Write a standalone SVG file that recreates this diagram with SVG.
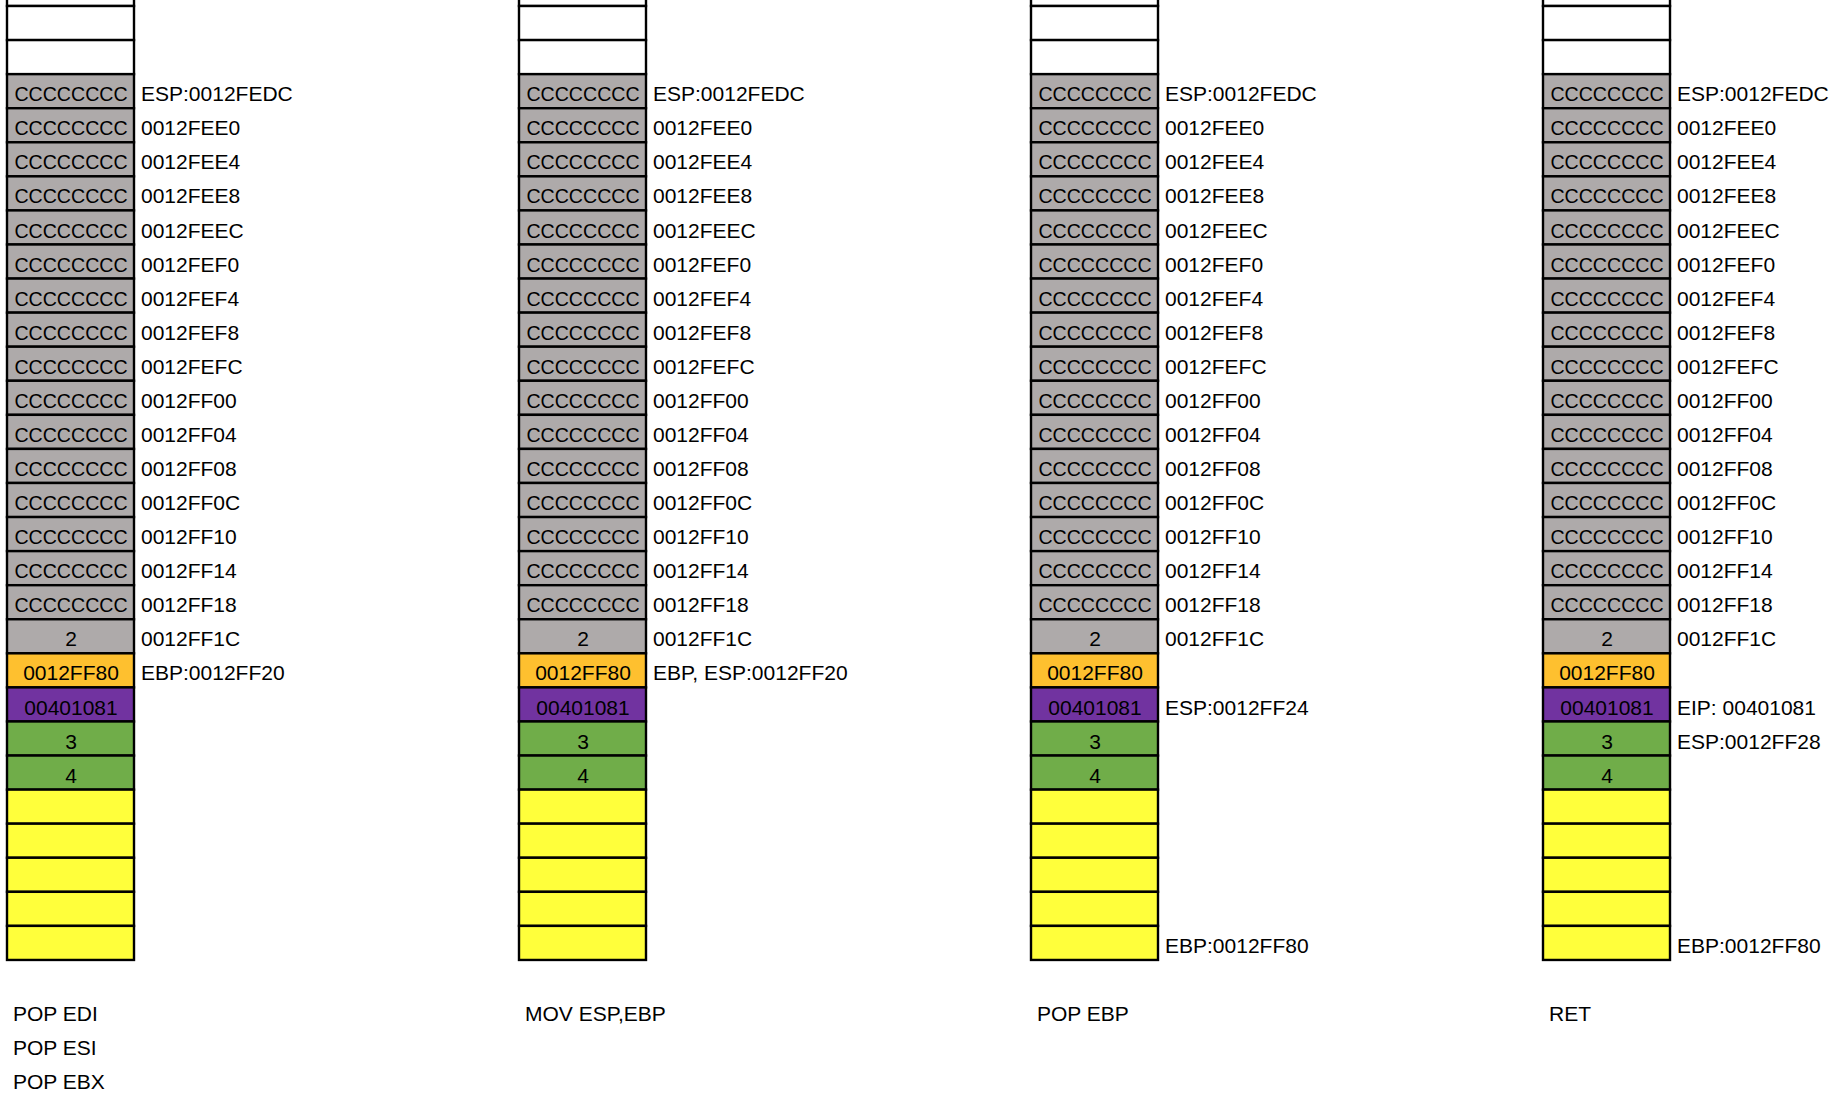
<svg xmlns="http://www.w3.org/2000/svg" width="1842" height="1098" viewBox="0 0 1842 1098">
<style>
.cell{stroke:#000;stroke-width:2.4}
.w{fill:#fff}.g{fill:#AEAAAA}.o{fill:#FEC02F}.p{fill:#7133A0}.n{fill:#70AD49}.y{fill:#FFFF3B}
text{font-family:"Liberation Sans",Arial,sans-serif;font-size:21px;fill:#000}
.c{text-anchor:middle}
.cc{font-size:19.6px}
</style>
<rect x="0" y="0" width="1842" height="1098" fill="#fff"/>
<g id="col1" transform="translate(7,0)">
<rect class="cell w" x="0" y="-28.07" width="127" height="34.07"/>
<rect class="cell w" x="0" y="6" width="127" height="34.07"/>
<rect class="cell w" x="0" y="40.07" width="127" height="34.07"/>
<rect class="cell g" x="0" y="74.14" width="127" height="34.07"/>
<rect class="cell g" x="0" y="108.21" width="127" height="34.07"/>
<rect class="cell g" x="0" y="142.28" width="127" height="34.07"/>
<rect class="cell g" x="0" y="176.35" width="127" height="34.07"/>
<rect class="cell g" x="0" y="210.42" width="127" height="34.07"/>
<rect class="cell g" x="0" y="244.49" width="127" height="34.07"/>
<rect class="cell g" x="0" y="278.56" width="127" height="34.07"/>
<rect class="cell g" x="0" y="312.63" width="127" height="34.07"/>
<rect class="cell g" x="0" y="346.7" width="127" height="34.07"/>
<rect class="cell g" x="0" y="380.77" width="127" height="34.07"/>
<rect class="cell g" x="0" y="414.84" width="127" height="34.07"/>
<rect class="cell g" x="0" y="448.91" width="127" height="34.07"/>
<rect class="cell g" x="0" y="482.98" width="127" height="34.07"/>
<rect class="cell g" x="0" y="517.05" width="127" height="34.07"/>
<rect class="cell g" x="0" y="551.12" width="127" height="34.07"/>
<rect class="cell g" x="0" y="585.19" width="127" height="34.07"/>
<rect class="cell g" x="0" y="619.26" width="127" height="34.07"/>
<rect class="cell o" x="0" y="653.33" width="127" height="34.07"/>
<rect class="cell p" x="0" y="687.4" width="127" height="34.07"/>
<rect class="cell n" x="0" y="721.47" width="127" height="34.07"/>
<rect class="cell n" x="0" y="755.54" width="127" height="34.07"/>
<rect class="cell y" x="0" y="789.61" width="127" height="34.07"/>
<rect class="cell y" x="0" y="823.68" width="127" height="34.07"/>
<rect class="cell y" x="0" y="857.75" width="127" height="34.07"/>
<rect class="cell y" x="0" y="891.82" width="127" height="34.07"/>
<rect class="cell y" x="0" y="925.89" width="127" height="34.07"/>
<text class="c cc" x="64" y="101.2">CCCCCCCC</text>
<text class="c cc" x="64" y="135.3">CCCCCCCC</text>
<text class="c cc" x="64" y="169.4">CCCCCCCC</text>
<text class="c cc" x="64" y="203.4">CCCCCCCC</text>
<text class="c cc" x="64" y="237.5">CCCCCCCC</text>
<text class="c cc" x="64" y="271.6">CCCCCCCC</text>
<text class="c cc" x="64" y="305.6">CCCCCCCC</text>
<text class="c cc" x="64" y="339.7">CCCCCCCC</text>
<text class="c cc" x="64" y="373.8">CCCCCCCC</text>
<text class="c cc" x="64" y="407.8">CCCCCCCC</text>
<text class="c cc" x="64" y="441.9">CCCCCCCC</text>
<text class="c cc" x="64" y="476.0">CCCCCCCC</text>
<text class="c cc" x="64" y="510.1">CCCCCCCC</text>
<text class="c cc" x="64" y="544.1">CCCCCCCC</text>
<text class="c cc" x="64" y="578.2">CCCCCCCC</text>
<text class="c cc" x="64" y="612.3">CCCCCCCC</text>
<text class="c" x="64" y="646.3">2</text>
<text class="c" x="64" y="680.4">0012FF80</text>
<text class="c" x="64" y="714.5">00401081</text>
<text class="c" x="64" y="748.5">3</text>
<text class="c" x="64" y="782.6">4</text>
<text x="134" y="101.2">ESP:0012FEDC</text>
<text x="134" y="135.3">0012FEE0</text>
<text x="134" y="169.4">0012FEE4</text>
<text x="134" y="203.4">0012FEE8</text>
<text x="134" y="237.5">0012FEEC</text>
<text x="134" y="271.6">0012FEF0</text>
<text x="134" y="305.6">0012FEF4</text>
<text x="134" y="339.7">0012FEF8</text>
<text x="134" y="373.8">0012FEFC</text>
<text x="134" y="407.8">0012FF00</text>
<text x="134" y="441.9">0012FF04</text>
<text x="134" y="476.0">0012FF08</text>
<text x="134" y="510.1">0012FF0C</text>
<text x="134" y="544.1">0012FF10</text>
<text x="134" y="578.2">0012FF14</text>
<text x="134" y="612.3">0012FF18</text>
<text x="134" y="646.3">0012FF1C</text>
<text x="134" y="680.4">EBP:0012FF20</text>
<text x="6" y="1021">POP EDI</text>
<text x="6" y="1055">POP ESI</text>
<text x="6" y="1089">POP EBX</text>
</g>
<g id="col2" transform="translate(519,0)">
<rect class="cell w" x="0" y="-28.07" width="127" height="34.07"/>
<rect class="cell w" x="0" y="6" width="127" height="34.07"/>
<rect class="cell w" x="0" y="40.07" width="127" height="34.07"/>
<rect class="cell g" x="0" y="74.14" width="127" height="34.07"/>
<rect class="cell g" x="0" y="108.21" width="127" height="34.07"/>
<rect class="cell g" x="0" y="142.28" width="127" height="34.07"/>
<rect class="cell g" x="0" y="176.35" width="127" height="34.07"/>
<rect class="cell g" x="0" y="210.42" width="127" height="34.07"/>
<rect class="cell g" x="0" y="244.49" width="127" height="34.07"/>
<rect class="cell g" x="0" y="278.56" width="127" height="34.07"/>
<rect class="cell g" x="0" y="312.63" width="127" height="34.07"/>
<rect class="cell g" x="0" y="346.7" width="127" height="34.07"/>
<rect class="cell g" x="0" y="380.77" width="127" height="34.07"/>
<rect class="cell g" x="0" y="414.84" width="127" height="34.07"/>
<rect class="cell g" x="0" y="448.91" width="127" height="34.07"/>
<rect class="cell g" x="0" y="482.98" width="127" height="34.07"/>
<rect class="cell g" x="0" y="517.05" width="127" height="34.07"/>
<rect class="cell g" x="0" y="551.12" width="127" height="34.07"/>
<rect class="cell g" x="0" y="585.19" width="127" height="34.07"/>
<rect class="cell g" x="0" y="619.26" width="127" height="34.07"/>
<rect class="cell o" x="0" y="653.33" width="127" height="34.07"/>
<rect class="cell p" x="0" y="687.4" width="127" height="34.07"/>
<rect class="cell n" x="0" y="721.47" width="127" height="34.07"/>
<rect class="cell n" x="0" y="755.54" width="127" height="34.07"/>
<rect class="cell y" x="0" y="789.61" width="127" height="34.07"/>
<rect class="cell y" x="0" y="823.68" width="127" height="34.07"/>
<rect class="cell y" x="0" y="857.75" width="127" height="34.07"/>
<rect class="cell y" x="0" y="891.82" width="127" height="34.07"/>
<rect class="cell y" x="0" y="925.89" width="127" height="34.07"/>
<text class="c cc" x="64" y="101.2">CCCCCCCC</text>
<text class="c cc" x="64" y="135.3">CCCCCCCC</text>
<text class="c cc" x="64" y="169.4">CCCCCCCC</text>
<text class="c cc" x="64" y="203.4">CCCCCCCC</text>
<text class="c cc" x="64" y="237.5">CCCCCCCC</text>
<text class="c cc" x="64" y="271.6">CCCCCCCC</text>
<text class="c cc" x="64" y="305.6">CCCCCCCC</text>
<text class="c cc" x="64" y="339.7">CCCCCCCC</text>
<text class="c cc" x="64" y="373.8">CCCCCCCC</text>
<text class="c cc" x="64" y="407.8">CCCCCCCC</text>
<text class="c cc" x="64" y="441.9">CCCCCCCC</text>
<text class="c cc" x="64" y="476.0">CCCCCCCC</text>
<text class="c cc" x="64" y="510.1">CCCCCCCC</text>
<text class="c cc" x="64" y="544.1">CCCCCCCC</text>
<text class="c cc" x="64" y="578.2">CCCCCCCC</text>
<text class="c cc" x="64" y="612.3">CCCCCCCC</text>
<text class="c" x="64" y="646.3">2</text>
<text class="c" x="64" y="680.4">0012FF80</text>
<text class="c" x="64" y="714.5">00401081</text>
<text class="c" x="64" y="748.5">3</text>
<text class="c" x="64" y="782.6">4</text>
<text x="134" y="101.2">ESP:0012FEDC</text>
<text x="134" y="135.3">0012FEE0</text>
<text x="134" y="169.4">0012FEE4</text>
<text x="134" y="203.4">0012FEE8</text>
<text x="134" y="237.5">0012FEEC</text>
<text x="134" y="271.6">0012FEF0</text>
<text x="134" y="305.6">0012FEF4</text>
<text x="134" y="339.7">0012FEF8</text>
<text x="134" y="373.8">0012FEFC</text>
<text x="134" y="407.8">0012FF00</text>
<text x="134" y="441.9">0012FF04</text>
<text x="134" y="476.0">0012FF08</text>
<text x="134" y="510.1">0012FF0C</text>
<text x="134" y="544.1">0012FF10</text>
<text x="134" y="578.2">0012FF14</text>
<text x="134" y="612.3">0012FF18</text>
<text x="134" y="646.3">0012FF1C</text>
<text x="134" y="680.4">EBP, ESP:0012FF20</text>
<text x="6" y="1021">MOV ESP,EBP</text>
</g>
<g id="col3" transform="translate(1031,0)">
<rect class="cell w" x="0" y="-28.07" width="127" height="34.07"/>
<rect class="cell w" x="0" y="6" width="127" height="34.07"/>
<rect class="cell w" x="0" y="40.07" width="127" height="34.07"/>
<rect class="cell g" x="0" y="74.14" width="127" height="34.07"/>
<rect class="cell g" x="0" y="108.21" width="127" height="34.07"/>
<rect class="cell g" x="0" y="142.28" width="127" height="34.07"/>
<rect class="cell g" x="0" y="176.35" width="127" height="34.07"/>
<rect class="cell g" x="0" y="210.42" width="127" height="34.07"/>
<rect class="cell g" x="0" y="244.49" width="127" height="34.07"/>
<rect class="cell g" x="0" y="278.56" width="127" height="34.07"/>
<rect class="cell g" x="0" y="312.63" width="127" height="34.07"/>
<rect class="cell g" x="0" y="346.7" width="127" height="34.07"/>
<rect class="cell g" x="0" y="380.77" width="127" height="34.07"/>
<rect class="cell g" x="0" y="414.84" width="127" height="34.07"/>
<rect class="cell g" x="0" y="448.91" width="127" height="34.07"/>
<rect class="cell g" x="0" y="482.98" width="127" height="34.07"/>
<rect class="cell g" x="0" y="517.05" width="127" height="34.07"/>
<rect class="cell g" x="0" y="551.12" width="127" height="34.07"/>
<rect class="cell g" x="0" y="585.19" width="127" height="34.07"/>
<rect class="cell g" x="0" y="619.26" width="127" height="34.07"/>
<rect class="cell o" x="0" y="653.33" width="127" height="34.07"/>
<rect class="cell p" x="0" y="687.4" width="127" height="34.07"/>
<rect class="cell n" x="0" y="721.47" width="127" height="34.07"/>
<rect class="cell n" x="0" y="755.54" width="127" height="34.07"/>
<rect class="cell y" x="0" y="789.61" width="127" height="34.07"/>
<rect class="cell y" x="0" y="823.68" width="127" height="34.07"/>
<rect class="cell y" x="0" y="857.75" width="127" height="34.07"/>
<rect class="cell y" x="0" y="891.82" width="127" height="34.07"/>
<rect class="cell y" x="0" y="925.89" width="127" height="34.07"/>
<text class="c cc" x="64" y="101.2">CCCCCCCC</text>
<text class="c cc" x="64" y="135.3">CCCCCCCC</text>
<text class="c cc" x="64" y="169.4">CCCCCCCC</text>
<text class="c cc" x="64" y="203.4">CCCCCCCC</text>
<text class="c cc" x="64" y="237.5">CCCCCCCC</text>
<text class="c cc" x="64" y="271.6">CCCCCCCC</text>
<text class="c cc" x="64" y="305.6">CCCCCCCC</text>
<text class="c cc" x="64" y="339.7">CCCCCCCC</text>
<text class="c cc" x="64" y="373.8">CCCCCCCC</text>
<text class="c cc" x="64" y="407.8">CCCCCCCC</text>
<text class="c cc" x="64" y="441.9">CCCCCCCC</text>
<text class="c cc" x="64" y="476.0">CCCCCCCC</text>
<text class="c cc" x="64" y="510.1">CCCCCCCC</text>
<text class="c cc" x="64" y="544.1">CCCCCCCC</text>
<text class="c cc" x="64" y="578.2">CCCCCCCC</text>
<text class="c cc" x="64" y="612.3">CCCCCCCC</text>
<text class="c" x="64" y="646.3">2</text>
<text class="c" x="64" y="680.4">0012FF80</text>
<text class="c" x="64" y="714.5">00401081</text>
<text class="c" x="64" y="748.5">3</text>
<text class="c" x="64" y="782.6">4</text>
<text x="134" y="101.2">ESP:0012FEDC</text>
<text x="134" y="135.3">0012FEE0</text>
<text x="134" y="169.4">0012FEE4</text>
<text x="134" y="203.4">0012FEE8</text>
<text x="134" y="237.5">0012FEEC</text>
<text x="134" y="271.6">0012FEF0</text>
<text x="134" y="305.6">0012FEF4</text>
<text x="134" y="339.7">0012FEF8</text>
<text x="134" y="373.8">0012FEFC</text>
<text x="134" y="407.8">0012FF00</text>
<text x="134" y="441.9">0012FF04</text>
<text x="134" y="476.0">0012FF08</text>
<text x="134" y="510.1">0012FF0C</text>
<text x="134" y="544.1">0012FF10</text>
<text x="134" y="578.2">0012FF14</text>
<text x="134" y="612.3">0012FF18</text>
<text x="134" y="646.3">0012FF1C</text>
<text x="134" y="714.5">ESP:0012FF24</text>
<text x="134" y="952.9">EBP:0012FF80</text>
<text x="6" y="1021">POP EBP</text>
</g>
<g id="col4" transform="translate(1543,0)">
<rect class="cell w" x="0" y="-28.07" width="127" height="34.07"/>
<rect class="cell w" x="0" y="6" width="127" height="34.07"/>
<rect class="cell w" x="0" y="40.07" width="127" height="34.07"/>
<rect class="cell g" x="0" y="74.14" width="127" height="34.07"/>
<rect class="cell g" x="0" y="108.21" width="127" height="34.07"/>
<rect class="cell g" x="0" y="142.28" width="127" height="34.07"/>
<rect class="cell g" x="0" y="176.35" width="127" height="34.07"/>
<rect class="cell g" x="0" y="210.42" width="127" height="34.07"/>
<rect class="cell g" x="0" y="244.49" width="127" height="34.07"/>
<rect class="cell g" x="0" y="278.56" width="127" height="34.07"/>
<rect class="cell g" x="0" y="312.63" width="127" height="34.07"/>
<rect class="cell g" x="0" y="346.7" width="127" height="34.07"/>
<rect class="cell g" x="0" y="380.77" width="127" height="34.07"/>
<rect class="cell g" x="0" y="414.84" width="127" height="34.07"/>
<rect class="cell g" x="0" y="448.91" width="127" height="34.07"/>
<rect class="cell g" x="0" y="482.98" width="127" height="34.07"/>
<rect class="cell g" x="0" y="517.05" width="127" height="34.07"/>
<rect class="cell g" x="0" y="551.12" width="127" height="34.07"/>
<rect class="cell g" x="0" y="585.19" width="127" height="34.07"/>
<rect class="cell g" x="0" y="619.26" width="127" height="34.07"/>
<rect class="cell o" x="0" y="653.33" width="127" height="34.07"/>
<rect class="cell p" x="0" y="687.4" width="127" height="34.07"/>
<rect class="cell n" x="0" y="721.47" width="127" height="34.07"/>
<rect class="cell n" x="0" y="755.54" width="127" height="34.07"/>
<rect class="cell y" x="0" y="789.61" width="127" height="34.07"/>
<rect class="cell y" x="0" y="823.68" width="127" height="34.07"/>
<rect class="cell y" x="0" y="857.75" width="127" height="34.07"/>
<rect class="cell y" x="0" y="891.82" width="127" height="34.07"/>
<rect class="cell y" x="0" y="925.89" width="127" height="34.07"/>
<text class="c cc" x="64" y="101.2">CCCCCCCC</text>
<text class="c cc" x="64" y="135.3">CCCCCCCC</text>
<text class="c cc" x="64" y="169.4">CCCCCCCC</text>
<text class="c cc" x="64" y="203.4">CCCCCCCC</text>
<text class="c cc" x="64" y="237.5">CCCCCCCC</text>
<text class="c cc" x="64" y="271.6">CCCCCCCC</text>
<text class="c cc" x="64" y="305.6">CCCCCCCC</text>
<text class="c cc" x="64" y="339.7">CCCCCCCC</text>
<text class="c cc" x="64" y="373.8">CCCCCCCC</text>
<text class="c cc" x="64" y="407.8">CCCCCCCC</text>
<text class="c cc" x="64" y="441.9">CCCCCCCC</text>
<text class="c cc" x="64" y="476.0">CCCCCCCC</text>
<text class="c cc" x="64" y="510.1">CCCCCCCC</text>
<text class="c cc" x="64" y="544.1">CCCCCCCC</text>
<text class="c cc" x="64" y="578.2">CCCCCCCC</text>
<text class="c cc" x="64" y="612.3">CCCCCCCC</text>
<text class="c" x="64" y="646.3">2</text>
<text class="c" x="64" y="680.4">0012FF80</text>
<text class="c" x="64" y="714.5">00401081</text>
<text class="c" x="64" y="748.5">3</text>
<text class="c" x="64" y="782.6">4</text>
<text x="134" y="101.2">ESP:0012FEDC</text>
<text x="134" y="135.3">0012FEE0</text>
<text x="134" y="169.4">0012FEE4</text>
<text x="134" y="203.4">0012FEE8</text>
<text x="134" y="237.5">0012FEEC</text>
<text x="134" y="271.6">0012FEF0</text>
<text x="134" y="305.6">0012FEF4</text>
<text x="134" y="339.7">0012FEF8</text>
<text x="134" y="373.8">0012FEFC</text>
<text x="134" y="407.8">0012FF00</text>
<text x="134" y="441.9">0012FF04</text>
<text x="134" y="476.0">0012FF08</text>
<text x="134" y="510.1">0012FF0C</text>
<text x="134" y="544.1">0012FF10</text>
<text x="134" y="578.2">0012FF14</text>
<text x="134" y="612.3">0012FF18</text>
<text x="134" y="646.3">0012FF1C</text>
<text x="134" y="714.5">EIP: 00401081</text>
<text x="134" y="748.5">ESP:0012FF28</text>
<text x="134" y="952.9">EBP:0012FF80</text>
<text x="6" y="1021">RET</text>
</g>
</svg>
